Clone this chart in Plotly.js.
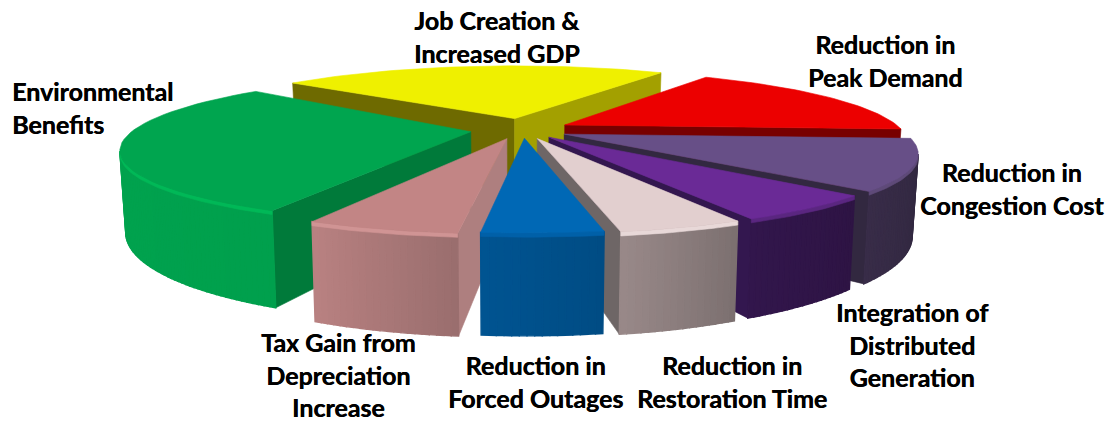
<!DOCTYPE html>
<html>
<head>
<meta charset="utf-8">
<script src="https://cdn.plot.ly/plotly-3.0.1.min.js"></script>
<style>html,body{margin:0;padding:0;background:#fff}#chart{width:1112px;height:422px}</style>
</head>
<body>
<div id="chart"></div>
<script>
// Benefit categories, clockwise from the slice at the back of the pie
const categories = ["Job Creation &<br>Increased GDP", "Reduction in<br>Peak Demand", "Reduction in<br>Congestion Cost",
  "Integration of<br>Distributed<br>Generation", "Reduction in<br>Restoration Time", "Reduction in<br>Forced Outages",
  "Tax Gain from<br>Depreciation<br>Increase", "Environmental<br>Benefits"];
const shares = [23.1, 17.0, 11.0, 5.7, 4.6, 4.4, 5.6, 28.6];

// Styling per slice: explosion distance, sideways drift, and degrees added to the far edge
const explode = [0.15, 0.14, 0.13, 0.11, 0.11, 0.1, 0.11, 0.11];
const drift = [0.018, 0, 0, 0.014, 0.016, 0.015, 0.005, -0.01];
const edgeExtra = [0, 0, 0, 0, 0, 0, 0, 2.5];
const topColor = ["#EFF000", "#EC0000", "#674F87", "#6A2A96", "#E2CFCF", "#0068B5", "#C28585", "#00A54F"];
const leftFace = ["#6E6A00", "#780000", "#322840", "#33174F", "#6E6666", "#004F8A", "#AE7F7F", "#007A3A"];
const rightFace = ["#A3A000", "#780000", "#322840", "#33174F", "#6E6666", "#004F8A", "#AE7F7F", "#007A3A"];
const wallStart = [[163,160,0], [120,0,0], [56,44,72], [50,22,76], [154,138,138], [0,84,146], [186,130,130], [0,166,80]];
const wallEnd = [[163,160,0], [120,0,0], [46,38,60], [46,20,68], [124,112,112], [0,76,132], [154,110,110], [0,160,77]];
const rimColor = ["#F4F430", "#EC0000", "#5E4A78", "#5A2680", "#E8D8D8", "#0060A8", "#D09494", "#00B857"];
const paintOrder = [0, 1, 2, 7, 3, 4, 6, 5];
const labelX = [497, 885, 1012, 912, 732, 535, 338, 10];
const labelY = [36, 60, 188, 344, 381, 381, 374.5, 107];
const labelAnchor = ["center", "center", "center", "center", "center", "center", "center", "left"];

// Perspective of the pie plane, in plot units
const view = {cx: 517, cy: 130, ax: 390, ay: 80, tilt: 0.26, depth: 77, taper: 0.985, radius: 0.865};
const startAngle = -51;
const rad = d => d * Math.PI / 180;

function project(X, Y, low) {
  const d = 1 + view.tilt * Y;
  return {
    x: view.cx + view.ax * X / d * (low ? view.taper : 1),
    y: view.cy - view.ay * Y / d + (low ? view.depth / d : 0)
  };
}
function polygon(points, color, stroke) {
  return {
    type: "scatter", mode: "lines", fill: "toself", fillcolor: color,
    x: points.map(p => p.x), y: points.map(p => p.y),
    line: {color: color, width: stroke || 0.6}, hoverinfo: "skip", showlegend: false
  };
}
// A face is drawn only if its outward normal points at the viewer
function facesViewer(nx, ny, px, py) {
  return nx * (0 - px) + ny * (-1 / view.tilt - py) > 0;
}
const mixRgb = (a, b, t) => "rgb(" + a.map((v, i) => Math.round(v + (b[i] - v) * t)).join(",") + ")";

const total = shares.reduce((a, b) => a + b, 0);
let running = startAngle;
const spans = shares.map((v, i) => {
  const from = running;
  running += v / total * 360;
  return [from, running + edgeExtra[i]];
});

const traces = [];
paintOrder.forEach(i => {
  const [a0, a1] = spans[i];
  const mid = rad((a0 + a1) / 2);
  const tipX = explode[i] * Math.sin(mid) + drift[i], tipY = explode[i] * Math.cos(mid);
  const rimPoint = a => [tipX + view.radius * Math.sin(rad(a)), tipY + view.radius * Math.cos(rad(a))];

  // Cut faces on both radial edges
  [[a0, -1, leftFace[i]], [a1, 1, rightFace[i]]].forEach(([a, side, color]) => {
    const nx = side * Math.cos(rad(a)), ny = -side * Math.sin(rad(a));
    if (!facesViewer(nx, ny, tipX, tipY)) return;
    const [ox, oy] = rimPoint(a);
    traces.push(polygon([project(tipX, tipY), project(ox, oy), project(ox, oy, true), project(tipX, tipY, true), project(tipX, tipY)], color));
  });

  // Curved outer wall in narrow strips for its shading, plus a lighter rounded rim
  const steps = Math.max(8, Math.ceil(a1 - a0));
  const rimTop = [], rimLow = [];
  for (let s = 0; s < steps; s++) {
    const b0 = a0 + (a1 - a0) * s / steps, b1 = a0 + (a1 - a0) * (s + 1) / steps;
    const bm = rad((b0 + b1) / 2);
    const [px, py] = rimPoint((b0 + b1) / 2);
    if (!facesViewer(Math.sin(bm), Math.cos(bm), px, py)) continue;
    const [x0, y0] = rimPoint(b0), [x1, y1] = rimPoint(b1);
    traces.push(polygon([project(x0, y0), project(x1, y1), project(x1, y1, true), project(x0, y0, true), project(x0, y0)],
      mixRgb(wallStart[i], wallEnd[i], 1 - s / steps), 1.4));
    [[x0, y0], [x1, y1]].forEach(([u, v]) => {
      const t = project(u, v);
      rimTop.push(t);
      rimLow.push({x: t.x, y: t.y + 0.04 * view.depth / (1 + view.tilt * v)});
    });
  }
  if (rimTop.length) traces.push(polygon(rimTop.concat(rimLow.reverse(), [rimTop[0]]), rimColor[i]));

  // Top surface of the slice
  const top = [project(tipX, tipY)];
  for (let s = 0; s <= 40; s++) {
    const [u, v] = rimPoint(a0 + (a1 - a0) * s / 40);
    top.push(project(u, v));
  }
  top.push(project(tipX, tipY));
  traces.push(polygon(top, topColor[i]));
});

const annotations = categories.map((text, i) => ({
  text, x: labelX[i], y: labelY[i], xref: "x", yref: "y",
  xanchor: labelAnchor[i], yanchor: "middle", align: labelAnchor[i],
  showarrow: false,
  font: {family: "Lato, sans-serif", size: 25, color: "#000", weight: 700, shadow: "0.4px 0 0 #000"}
}));

Plotly.newPlot("chart", traces, {
  width: 1112, height: 422,
  margin: {l: 0, r: 0, t: 0, b: 0},
  paper_bgcolor: "#fff", plot_bgcolor: "#fff",
  xaxis: {range: [0, 1112], visible: false, fixedrange: true},
  yaxis: {range: [422, 0], visible: false, fixedrange: true},
  showlegend: false, annotations
}, {displayModeBar: false, staticPlot: true});
</script>
</body>
</html>
